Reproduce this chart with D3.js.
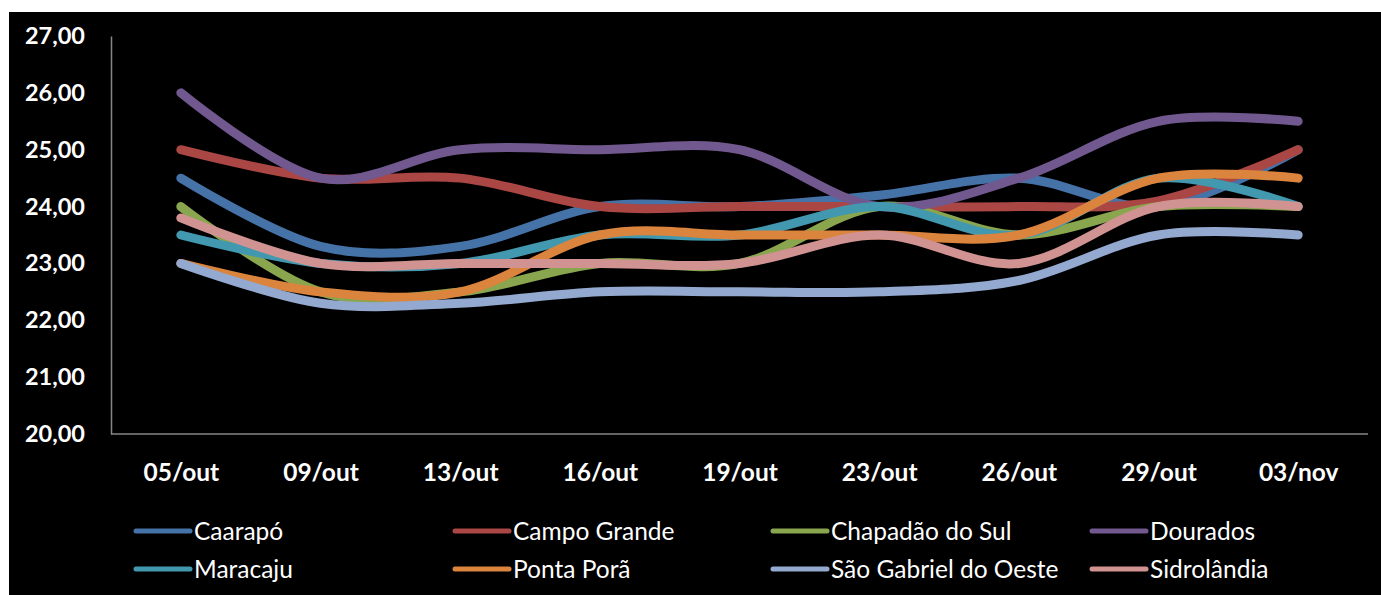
<!DOCTYPE html>
<html>
<head>
<meta charset="utf-8">
<script src="https://cdn.jsdelivr.net/npm/d3@7/dist/d3.min.js"></script>
<style>
  html, body { margin: 0; padding: 0; background: #ffffff; }
  svg { display: block; }
</style>
</head>
<body>
<script>
// Daily temperature readings (°C) for municipalities of Mato Grosso do Sul
const dates = ["05/out", "09/out", "13/out", "16/out", "19/out", "23/out", "26/out", "29/out", "03/nov"];
const yTicks = [20, 21, 22, 23, 24, 25, 26, 27];

const caarapo        = [24.5, 23.3, 23.3, 24.0, 24.0, 24.2, 24.5, 24.0, 25.0];
const campoGrande    = [25.0, 24.5, 24.5, 24.0, 24.0, 24.0, 24.0, 24.1, 25.0];
const chapadaoDoSul  = [24.0, 22.5, 22.5, 23.0, 23.0, 24.0, 23.5, 24.0, 24.0];
const dourados       = [26.0, 24.5, 25.0, 25.0, 25.0, 24.0, 24.5, 25.5, 25.5];
const maracaju       = [23.5, 23.0, 23.0, 23.5, 23.5, 24.0, 23.5, 24.5, 24.0];
const pontaPora      = [23.0, 22.5, 22.5, 23.5, 23.5, 23.5, 23.5, 24.5, 24.5];
const saoGabriel     = [23.0, 22.3, 22.3, 22.5, 22.5, 22.5, 22.7, 23.5, 23.5];
const sidrolandia    = [23.8, 23.0, 23.0, 23.0, 23.0, 23.5, 23.0, 24.0, 24.0];

const seriesNames  = ["Caarapó", "Campo Grande", "Chapadão do Sul", "Dourados",
                      "Maracaju", "Ponta Porã", "São Gabriel do Oeste", "Sidrolândia"];
const seriesValues = [caarapo, campoGrande, chapadaoDoSul, dourados,
                      maracaju, pontaPora, saoGabriel, sidrolandia];
const seriesColors = ["#4572A7", "#AA4643", "#89A54E", "#71588F",
                      "#4198AF", "#DB843D", "#93A9CF", "#D19392"];

const W = 1381, H = 595;
const plot = { left: 111, right: 1368, top: 36, bottom: 434 };
const FONT = "Lato, 'Open Sans', sans-serif";

const svg = d3.select("body").append("svg")
  .attr("width", W).attr("height", H);

// black chart area
svg.append("rect")
  .attr("x", 9).attr("y", 12)
  .attr("width", W - 9).attr("height", H - 12)
  .attr("fill", "#000000");

const x = d3.scalePoint().domain(dates).range([plot.left, plot.right]).padding(0.5);
const y = d3.scaleLinear().domain([20, 27]).range([plot.bottom, plot.top]);

// y axis
const yAxis = svg.append("g")
  .attr("transform", `translate(${plot.left},0)`)
  .call(d3.axisLeft(y).tickValues(yTicks).tickSize(0).tickPadding(26)
    .tickFormat(d => d3.format(".2f")(d).replace(".", ",")));
yAxis.select(".domain").attr("stroke", "#868686").attr("stroke-width", 1.5);
yAxis.selectAll("text")
  .attr("fill", "#ffffff")
  .attr("font-family", FONT)
  .attr("font-weight", "bold")
  .attr("font-size", 23.5);

// x axis
const xAxis = svg.append("g")
  .attr("transform", `translate(0,${plot.bottom})`)
  .call(d3.axisBottom(x).tickSize(0).tickPadding(30));
xAxis.select(".domain").attr("stroke", "#868686").attr("stroke-width", 1.5)
  .attr("d", `M${plot.left},0H${plot.right}`);
xAxis.selectAll("text")
  .attr("fill", "#ffffff")
  .attr("font-family", FONT)
  .attr("font-weight", "bold")
  .attr("font-size", 24.5);

// smoothed series lines
const line = d3.line()
  .x((d, i) => x(dates[i]))
  .y(d => y(d))
  .curve(d3.curveCardinal.tension(0));

svg.append("g").selectAll("path")
  .data(seriesValues)
  .join("path")
  .attr("d", line)
  .attr("fill", "none")
  .attr("stroke", (d, i) => seriesColors[i])
  .attr("stroke-width", 9)
  .attr("stroke-linecap", "round")
  .attr("stroke-linejoin", "round");

// legend: 4 columns x 2 rows
const legendCols = [136, 455, 773, 1092];
const legendRows = [531, 569];
const legend = svg.append("g").selectAll("g")
  .data(seriesNames)
  .join("g")
  .attr("transform", (d, i) => `translate(${legendCols[i % 4]},${legendRows[Math.floor(i / 4)]})`);
legend.append("line")
  .attr("x1", 0).attr("x2", 54)
  .attr("stroke", (d, i) => seriesColors[i])
  .attr("stroke-width", 5)
  .attr("stroke-linecap", "round");
legend.append("text")
  .attr("x", 58)
  .attr("dy", "0.35em")
  .attr("fill", "#ffffff")
  .attr("font-family", FONT)
  .attr("font-size", 24.5)
  .text(d => d);
</script>
</body>
</html>
